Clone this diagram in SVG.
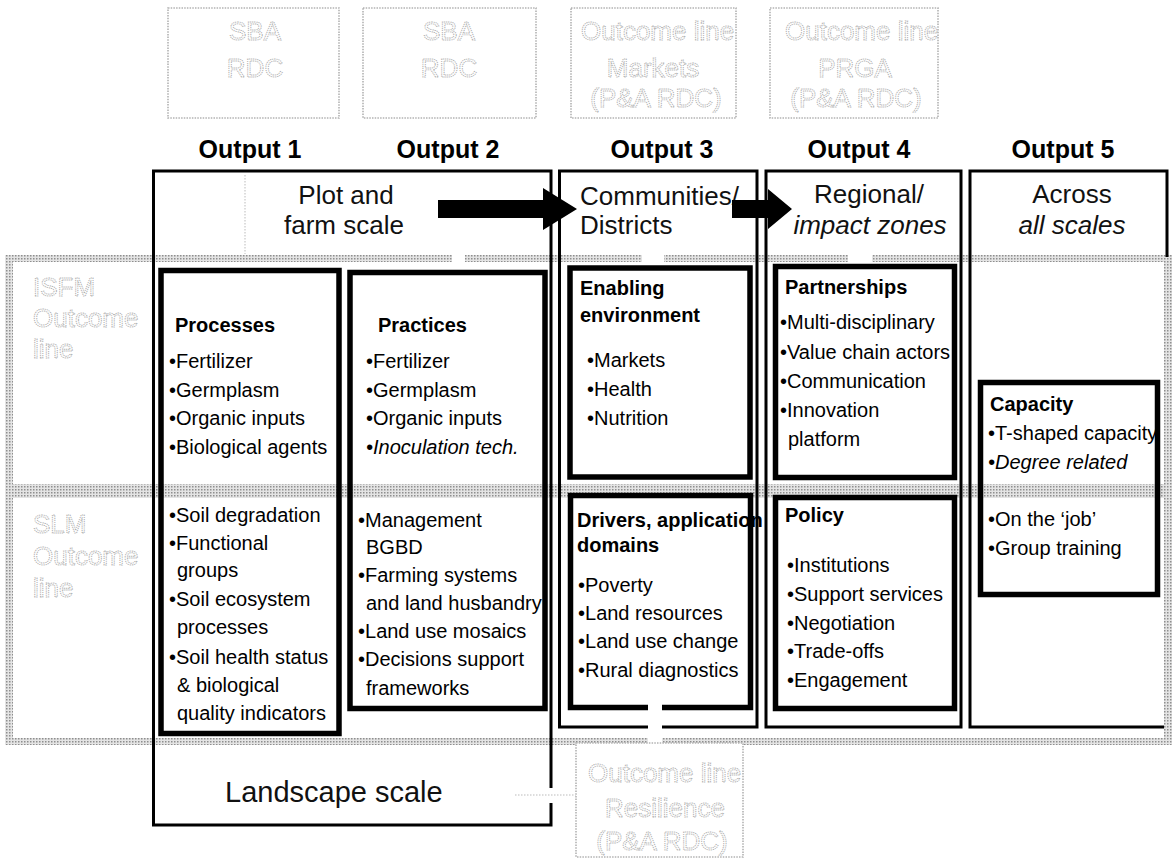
<svg xmlns="http://www.w3.org/2000/svg" width="1172" height="859" viewBox="0 0 1172 859">
  <defs>
    <!-- halftone grey used for the outcome-line band -->
    <pattern id="halftone" width="3" height="3" patternUnits="userSpaceOnUse">
      <rect width="3" height="3" fill="#e4e4e4"/>
      <rect width="1.5" height="1.5" fill="#8e8e8e"/>
    </pattern>
  </defs>
  <style>
    .hdr{font:bold 25px 'Liberation Sans',Arial,sans-serif;text-anchor:middle;fill:#000}
    .scale{font:26px 'Liberation Sans',Arial,sans-serif;fill:#111}
    .mid{text-anchor:middle}
    .ttl{font:bold 20px 'Liberation Sans',Arial,sans-serif;fill:#000}
    .item{font:20px 'Liberation Sans',Arial,sans-serif;fill:#000}
    .it{font-style:italic}
    .ghost{font:26px 'Liberation Sans',Arial,sans-serif;fill:#fff;stroke:#ababab;stroke-width:0.9;stroke-dasharray:1.2 0.9}
    .ghostbox{fill:#fff;stroke:#b2b2b2;stroke-width:1.6;stroke-dasharray:1.5 1.2}
    .frame{fill:none;stroke:#000;stroke-width:3}
    .card{fill:none;stroke:#000;stroke-width:5.5}
    .band{fill:url(#halftone)}
    .gap{fill:#fff}
    .faint{fill:none;stroke:#d2d2d2;stroke-width:1.5;stroke-dasharray:1.5 1.5}
  </style>

  <rect width="1172" height="859" fill="#fff"/>

  <!-- outcome-line band (ISFM / SLM rows) -->
  <g id="outcome-band">
    <rect class="band" x="5" y="255" width="1167" height="7"/>
    <rect class="band" x="5" y="738" width="1167" height="7"/>
    <rect class="band" x="5" y="255" width="8" height="490"/>
    <rect class="band" x="1164" y="255" width="8" height="490"/>
    <rect class="band" x="5" y="484" width="1167" height="14"/>
    <rect class="gap" x="452" y="253" width="13" height="11"/>
    <rect class="gap" x="642" y="253" width="22" height="11"/>
    <rect class="gap" x="848" y="253" width="24" height="11"/>
    <rect class="gap" x="648" y="736" width="14" height="11"/>
    <text class="ghost" x="33" y="296">ISFM</text>
    <text class="ghost" x="33" y="327">Outcome</text>
    <text class="ghost" x="33" y="358">line</text>
    <text class="ghost" x="33" y="533">SLM</text>
    <text class="ghost" x="33" y="565">Outcome</text>
    <text class="ghost" x="33" y="597">line</text>
  </g>

  <!-- outcome-line boxes above the outputs -->
  <g id="sba-rdc-1">
    <rect class="ghostbox" x="168" y="8" width="171" height="110"/>
    <text class="ghost mid" x="255" y="40">SBA</text>
    <text class="ghost mid" x="255" y="77">RDC</text>
  </g>
  <g id="sba-rdc-2">
    <rect class="ghostbox" x="363" y="8" width="173" height="110"/>
    <text class="ghost mid" x="449" y="40">SBA</text>
    <text class="ghost mid" x="449" y="77">RDC</text>
  </g>
  <g id="outcome-markets">
    <rect class="ghostbox" x="571" y="8" width="165" height="110"/>
    <text class="ghost" x="581" y="40">Outcome line</text>
    <text class="ghost mid" x="653" y="77">Markets</text>
    <text class="ghost mid" x="656" y="107">(P&amp;A RDC)</text>
  </g>
  <g id="outcome-prga">
    <rect class="ghostbox" x="770" y="8" width="168" height="110"/>
    <text class="ghost" x="785" y="40">Outcome line</text>
    <text class="ghost mid" x="855" y="77">PRGA</text>
    <text class="ghost mid" x="856" y="107">(P&amp;A RDC)</text>
  </g>

  <!-- output headers -->
  <g id="headers">
    <text class="hdr" x="250" y="158">Output 1</text>
    <text class="hdr" x="448" y="158">Output 2</text>
    <text class="hdr" x="662" y="158">Output 3</text>
    <text class="hdr" x="859" y="158">Output 4</text>
    <text class="hdr" x="1063" y="158">Output 5</text>
  </g>

  <!-- scale frames -->
  <g id="plot-farm-scale">
    <path class="frame" d="M551,788 V171 H153.5 V825 H551 V803"/>
    <text class="scale mid" x="346" y="204">Plot and</text>
    <text class="scale mid" x="344" y="234">farm scale</text>
    <text class="scale" x="225" y="802" style="font-size:29px">Landscape scale</text>
  </g>
  <g id="communities-districts">
    <path class="frame" d="M648,727 H559.5 V171 H757 V727 H662"/>
    <text class="scale" x="580" y="205">Communities/</text>
    <text class="scale" x="580" y="234">Districts</text>
  </g>
  <g id="regional-impact">
    <rect class="frame" x="766" y="171" width="195" height="556"/>
    <text class="scale mid" x="869" y="203">Regional/</text>
    <text class="scale mid it" x="870" y="234">impact zones</text>
  </g>
  <g id="all-scales">
    <path class="frame" d="M1167,257 V171 H970 V727 H1164"/>
    <text class="scale mid" x="1072" y="203">Across</text>
    <text class="scale mid it" x="1072" y="234">all scales</text>
  </g>

  <!-- content cards -->
  <g id="processes">
    <rect class="card" x="161" y="270.5" width="178" height="463"/>
    <text class="ttl" x="175" y="332">Processes</text>
    <text class="item" x="169" y="368">•Fertilizer</text>
    <text class="item" x="169" y="397">•Germplasm</text>
    <text class="item" x="169" y="425">•Organic inputs</text>
    <text class="item" x="169" y="454">•Biological agents</text>
    <text class="item" x="169" y="522">•Soil degradation</text>
    <text class="item" x="169" y="550">•Functional</text>
    <text class="item" x="177" y="577">groups</text>
    <text class="item" x="169" y="606">•Soil ecosystem</text>
    <text class="item" x="177" y="634">processes</text>
    <text class="item" x="169" y="664">•Soil health status</text>
    <text class="item" x="177" y="692">&amp; biological</text>
    <text class="item" x="177" y="720">quality indicators</text>
  </g>
  <g id="practices">
    <rect class="card" x="350" y="272.5" width="195" height="436"/>
    <text class="ttl" x="378" y="332">Practices</text>
    <text class="item" x="366" y="368">•Fertilizer</text>
    <text class="item" x="366" y="397">•Germplasm</text>
    <text class="item" x="366" y="425">•Organic inputs</text>
    <text class="item it" x="366" y="454">•Inoculation tech.</text>
    <text class="item" x="358" y="527">•Management</text>
    <text class="item" x="366" y="554">BGBD</text>
    <text class="item" x="358" y="582">•Farming systems</text>
    <text class="item" x="366" y="610">and land husbandry</text>
    <text class="item" x="358" y="638">•Land use mosaics</text>
    <text class="item" x="358" y="666">•Decisions support</text>
    <text class="item" x="366" y="695">frameworks</text>
  </g>
  <g id="enabling-environment">
    <rect class="card" x="570" y="268" width="180" height="209"/>
    <text class="ttl" x="580" y="295">Enabling</text>
    <text class="ttl" x="580" y="322">environment</text>
    <text class="item" x="587" y="367">•Markets</text>
    <text class="item" x="587" y="396">•Health</text>
    <text class="item" x="587" y="425">•Nutrition</text>
  </g>
  <g id="drivers">
    <text class="ttl" x="577" y="527">Drivers, application</text>
    <text class="ttl" x="577" y="552">domains</text>
    <text class="item" x="578" y="592">•Poverty</text>
    <text class="item" x="578" y="620">•Land resources</text>
    <text class="item" x="578" y="648">•Land use change</text>
    <text class="item" x="578" y="677">•Rural diagnostics</text>
    <path class="card" d="M648,707.5 H570.5 V495.5 H750.5 V707.5 H662"/>
  </g>
  <g id="partnerships">
    <rect class="card" x="775.5" y="266.5" width="179" height="211"/>
    <text class="ttl" x="785" y="294">Partnerships</text>
    <text class="item" x="780" y="329">•Multi-disciplinary</text>
    <text class="item" x="780" y="359">•Value chain actors</text>
    <text class="item" x="780" y="388">•Communication</text>
    <text class="item" x="780" y="417">•Innovation</text>
    <text class="item" x="788" y="446">platform</text>
  </g>
  <g id="policy">
    <rect class="card" x="775.5" y="497.5" width="179" height="211"/>
    <text class="ttl" x="785" y="522">Policy</text>
    <text class="item" x="787" y="572">•Institutions</text>
    <text class="item" x="787" y="601">•Support services</text>
    <text class="item" x="787" y="630">•Negotiation</text>
    <text class="item" x="787" y="658">•Trade-offs</text>
    <text class="item" x="787" y="687">•Engagement</text>
  </g>
  <g id="capacity">
    <rect class="card" x="980.5" y="382.5" width="177" height="212"/>
    <text class="ttl" x="990" y="411">Capacity</text>
    <text class="item" x="988" y="440">•T-shaped capacity</text>
    <text class="item it" x="988" y="469">•Degree related</text>
    <text class="item" x="988" y="526">•On the ‘job’</text>
    <text class="item" x="988" y="555">•Group training</text>
  </g>

  <!-- resilience outcome line below -->
  <g id="outcome-resilience">
    <rect class="ghostbox" x="576" y="743" width="167" height="114"/>
    <text class="ghost" x="588" y="782">Outcome line</text>
    <text class="ghost mid" x="665" y="817">Resilience</text>
    <text class="ghost mid" x="662" y="850">(P&amp;A RDC)</text>
  </g>

  <!-- connectors: scale-up arrows and faint links -->
  <g id="connectors">
    <polygon points="438,200 543,200 543,188 577,209 543,230 543,218 438,218" fill="#000"/>
    <polygon points="732,200 768,200 768,189 792,209 768,229 768,218 732,218" fill="#000"/>
    <line class="faint" x1="245" y1="175" x2="245" y2="254"/>
    <line class="faint" x1="515" y1="795" x2="576" y2="795"/>
  </g>
</svg>
